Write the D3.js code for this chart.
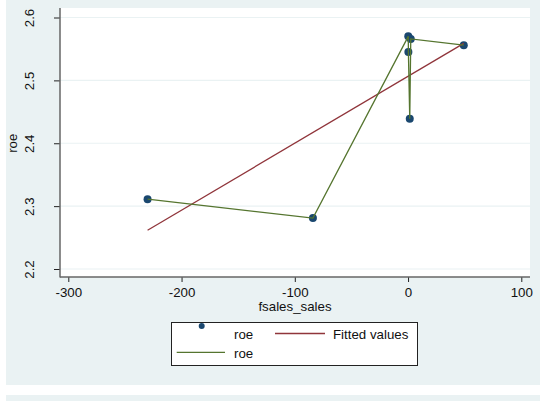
<!DOCTYPE html>
<html><head><meta charset="utf-8">
<script src="https://cdn.jsdelivr.net/npm/d3@7"></script>
<style>
html,body{margin:0;padding:0;background:#fff;}
svg{display:block;}
text{font-family:"Liberation Sans",Arial,Helvetica,sans-serif;fill:#111;}
</style></head>
<body>
<svg id="chart" width="540" height="401"></svg>
<script>
// ---- data ----
const fsales = [-230, -84, 0.2, 0.3, 1.5, 2.4, 49.2];
const roe    = [2.311, 2.281, 2.570, 2.545, 2.439, 2.566, 2.556];
const xTicks = [-300, -200, -100, 0, 100];
const yTicks = [2.2, 2.3, 2.4, 2.5, 2.6];
const xTickLabels = ["-300", "-200", "-100", "0", "100"];
const yTickLabels = ["2.2", "2.3", "2.4", "2.5", "2.6"];
const xTitle = "fsales_sales";
const yTitle = "roe";
const legendLabels = ["roe", "Fitted values", "roe"];

const svg = d3.select("#chart");
const bg = "#eaf2f3";
const navy = "#1a476f", maroon = "#90353b", green = "#55752f";
const fs = "13.3px";

// background panels
svg.append("rect").attr("x",6).attr("y",0).attr("width",534).attr("height",385).attr("fill",bg);
svg.append("rect").attr("x",6).attr("y",395).attr("width",534).attr("height",6).attr("fill",bg);

// plot region
const P = {l:60, t:8, r:530, b:277};
svg.append("rect").attr("x",P.l).attr("y",P.t).attr("width",P.r-P.l).attr("height",P.b-P.t).attr("fill","#fff");

const x = d3.scaleLinear().domain([-300,100]).range([68.3,521.3]);
const y = d3.scaleLinear().domain([2.2,2.6]).range([269,17.5]);

// grid
svg.append("g").selectAll("line").data(yTicks).join("line")
  .attr("x1",P.l).attr("x2",P.r).attr("y1",d=>y(d)).attr("y2",d=>y(d))
  .attr("stroke",bg).attr("stroke-width",1.2);

// y axis
const ya = svg.append("g").attr("transform",`translate(${P.l},0)`)
  .call(d3.axisLeft(y).tickValues(yTicks).tickSize(6).tickSizeOuter(0).tickFormat((d,i)=>yTickLabels[i]));
ya.select(".domain").remove();
ya.selectAll(".tick line").attr("stroke","#222").attr("stroke-width",1);
ya.selectAll(".tick text")
  .attr("x",null).attr("dy",null)
  .attr("transform","translate(-26,0) rotate(-90)")
  .attr("text-anchor","middle").style("font-size",fs).attr("fill","#111");

// x axis
const xa = svg.append("g").attr("transform",`translate(0,${P.b})`)
  .call(d3.axisBottom(x).tickValues(xTicks).tickSize(5).tickSizeOuter(0).tickFormat((d,i)=>xTickLabels[i]));
xa.select(".domain").remove();
xa.selectAll(".tick line").attr("stroke","#222").attr("stroke-width",1);
xa.selectAll(".tick text").attr("y",20).attr("dy",null).style("font-size",fs).attr("fill","#111");

// axis lines
svg.append("line").attr("x1",P.l).attr("x2",P.l).attr("y1",P.t).attr("y2",P.b+0.5).attr("stroke","#666").attr("stroke-width",1.5);
svg.append("line").attr("x1",P.l).attr("x2",P.r).attr("y1",P.b).attr("y2",P.b).attr("stroke","#666").attr("stroke-width",1.5);

// titles
svg.append("text").attr("x",(P.l+P.r)/2).attr("y",310.5).attr("text-anchor","middle").style("font-size",fs).text(xTitle);
svg.append("text").attr("transform",`translate(16.5,${(y(2.2)+y(2.6))/2}) rotate(-90)`).attr("text-anchor","middle").style("font-size",fs).text(yTitle);

// data
const pts = fsales.map((v,i)=>({x:v,y:roe[i]}));

// scatter
svg.append("g").selectAll("circle").data(pts).join("circle")
  .attr("cx",d=>x(d.x)).attr("cy",d=>y(d.y)).attr("r",4).attr("fill",navy);

// linear fit
const mx = d3.mean(pts,d=>d.x), my = d3.mean(pts,d=>d.y);
const sxy = d3.sum(pts,d=>(d.x-mx)*(d.y-my)), sxx = d3.sum(pts,d=>(d.x-mx)**2);
const b = sxy/sxx, a = my - b*mx;
const xr = d3.extent(fsales);
const fit = xr.map(v=>({x:v,y:a+b*v}));
const line = d3.line().x(d=>x(d.x)).y(d=>y(d.y));
svg.append("path").datum(fit).attr("d",line).attr("fill","none").attr("stroke",maroon).attr("stroke-width",1.3);

// connected line
svg.append("path").datum(pts).attr("d",line).attr("fill","none").attr("stroke",green).attr("stroke-width",1.3);

// legend
const lg = svg.append("g");
lg.append("rect").attr("x",171.5).attr("y",322.5).attr("width",246).attr("height",43).attr("fill","#fff").attr("stroke","#222").attr("stroke-width",1);
lg.append("circle").attr("cx",201.7).attr("cy",326).attr("r",3).attr("fill",navy);
lg.append("text").attr("x",234).attr("y",339).style("font-size",fs).text(legendLabels[0]);
lg.append("line").attr("x1",275).attr("x2",325).attr("y1",333.5).attr("y2",333.5).attr("stroke",maroon).attr("stroke-width",1.3);
lg.append("text").attr("x",333).attr("y",339).style("font-size",fs).text(legendLabels[1]);
lg.append("line").attr("x1",176.7).attr("x2",225).attr("y1",352.3).attr("y2",352.3).attr("stroke",green).attr("stroke-width",1.3);
lg.append("text").attr("x",234).attr("y",358).style("font-size",fs).text(legendLabels[2]);
</script>
</body></html>
